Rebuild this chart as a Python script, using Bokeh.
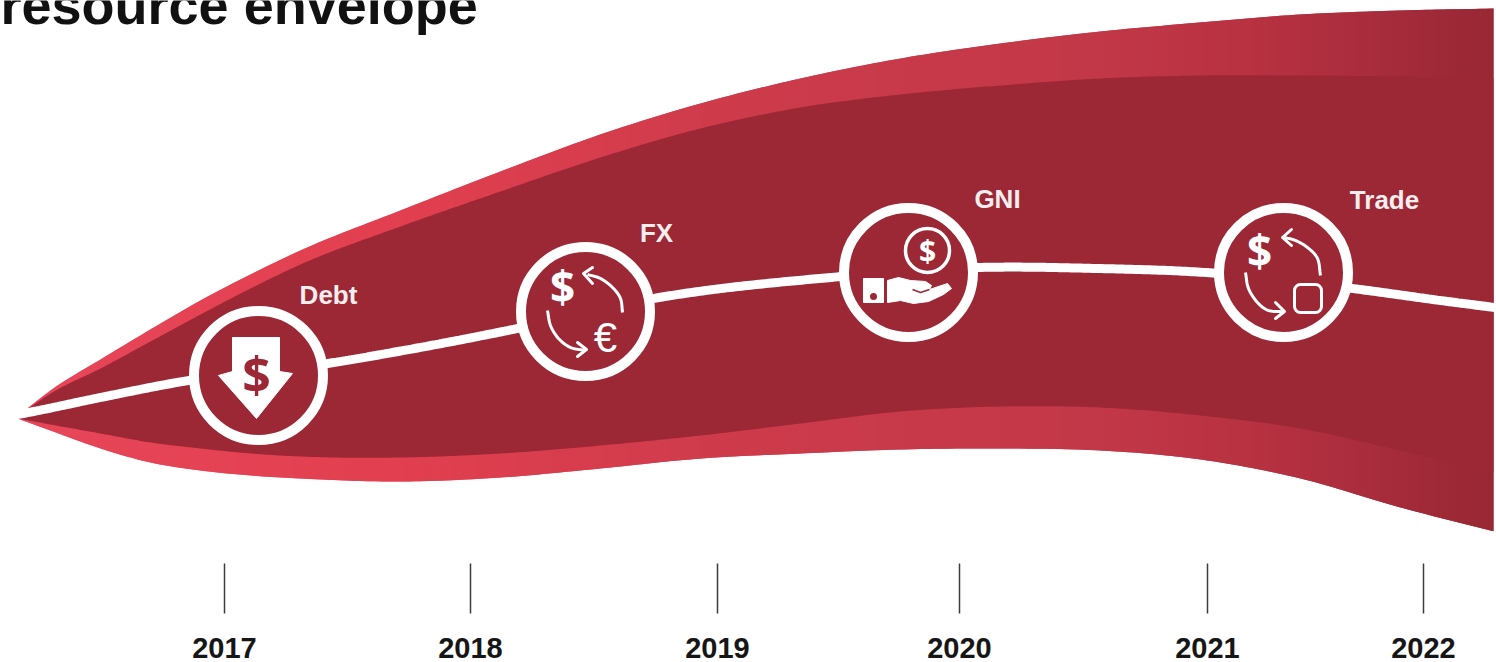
import numpy as np
from bokeh.plotting import figure
from bokeh.embed import file_html
from bokeh.resources import INLINE
from bokeh.core.properties import value
from bokeh.models import FixedTicker

# ---------- values (page pixels) ----------
TITLE = "resource envelope"
TITLE_POS = (0, 4)
year_ticks = [224, 470, 717, 959, 1207, 1423]
year_labels = ["2017", "2018", "2019", "2020", "2021", "2022"]

band_x = [17, 50, 100, 150, 200, 250, 300, 400, 500, 600, 700, 800, 900, 1000, 1100, 1200, 1300, 1400, 1494]
outer_top = [416, 390, 359, 329, 300, 274, 250, 210, 171, 134, 103, 78, 58, 43, 31, 22, 14, 10, 8]
inner_top = [416, 393, 368, 341, 314, 288, 264, 226, 191, 157, 128, 107, 94, 85, 78, 75, 75, 76, 78]
inner_bot = [418, 424, 433, 442, 448, 453, 456, 457, 453, 445, 435, 423, 411, 406, 407, 415, 428, 450, 472]
outer_bot = [418, 430, 448, 462, 470, 475, 478, 481, 477, 468, 458, 453, 449, 448, 450, 459, 478, 507, 531]

link_x = [12, 33, 100, 188, 327, 403, 517, 653, 830, 978, 1097, 1205, 1352, 1440, 1494]
link_y = [415, 411, 397, 380, 363, 350, 328, 298, 277, 267, 268, 272, 288, 300, 307]

node_x = [258, 585, 908, 1283]
node_y = [375, 311, 272, 272]
node_names = ["Debt", "FX", "GNI", "Trade"]
name_x = [328, 656, 997, 1384]
name_y = [294, 232, 198, 199]

light_stop_x = [17, 400, 700, 900, 1100, 1250, 1350, 1430, 1494]
light_stop_rgb = [(232, 71, 90), (226, 64, 80), (208, 60, 76), (200, 58, 74), (195, 56, 72),
                  (184, 50, 66), (172, 46, 62), (160, 42, 56), (152, 40, 52)]
DARK = "#9c2735"

debt_arrow_x = [232, 279, 279, 292, 256, 218, 232]
debt_arrow_y = [337, 337, 371, 373, 418, 375, 371]
fx_top_x = [622, 620, 612, 600, 587]
fx_top_y = [312, 298, 287, 278, 274]
fx_top_head_x = [592, 583, 592]
fx_top_head_y = [267, 273, 283]
fx_bot_x = [547, 550, 558, 570, 585]
fx_bot_y = [310, 325, 338, 347, 350]
fx_bot_head_x = [577, 586, 577]
fx_bot_head_y = [342, 349, 356]
tr_top_x = [1320, 1317, 1307, 1295, 1284]
tr_top_y = [275, 258, 247, 240, 237]
tr_top_head_x = [1291, 1282, 1291]
tr_top_head_y = [229, 237, 245]
tr_bot_x = [1245, 1248, 1257, 1268, 1283]
tr_bot_y = [272, 288, 302, 310, 311]
tr_bot_head_x = [1275, 1284, 1275]
tr_bot_head_y = [302, 311, 318]
tr_box = (1294, 1321, 284, 312)
coin = (927, 250, 22)
cuff_x = [863, 883, 883, 863]
cuff_y = [278, 278, 302, 302]
cuff_dot = (873, 296)
hand_x = [887, 898, 910, 925, 931, 929, 947, 951, 943, 928, 913, 900, 887]
hand_y = [280, 277, 280, 281, 285, 289, 283, 288, 294, 301, 303, 300, 302]
crease_x = [912, 920, 929]
crease_y = [289, 292, 289]
dollars = [(256, 373, 50, DARK, "bold"), (562, 285, 44, "#ffffff", "bold"),
           (927, 250, 30, "#ffffff", "bold"), (1259, 249, 44, "#ffffff", "bold")]
euro = (605, 337, 42)


def smooth(t, v, ti):
    """Cubic rendering of a curve through the read points."""
    t, v = np.asarray(t, float), np.asarray(v, float)
    m = np.gradient(v, t)
    i = np.clip(np.searchsorted(t, ti, side="right") - 1, 0, len(t) - 2)
    h = t[i + 1] - t[i]
    s = (ti - t[i]) / h
    return ((2*s**3 - 3*s**2 + 1) * v[i] + (s**3 - 2*s**2 + s) * h * m[i]
            + (-2*s**3 + 3*s**2) * v[i + 1] + (s**3 - s**2) * h * m[i + 1])


def path(xs, ys, n=40):
    t = np.arange(len(xs), dtype=float)
    ti = np.linspace(0, len(xs) - 1, n)
    return smooth(t, xs, ti).tolist(), smooth(t, ys, ti).tolist()


p = figure(width=1496, height=662, x_range=(0, 1496), y_range=(662, 0),
           output_backend="svg", toolbar_location=None, tools="",
           y_axis_location=None, min_border_left=0, min_border_right=0,
           min_border_top=0, min_border_bottom=0)
p.outline_line_color = None
p.background_fill_color = "white"
p.border_fill_color = "white"
p.grid.visible = False

ax = p.xaxis[0]
ax.fixed_location = 563
ax.ticker = FixedTicker(ticks=year_ticks)
ax.major_label_overrides = dict(zip(year_ticks, year_labels))
ax.axis_line_color = None
ax.major_tick_in = 0
ax.major_tick_out = 50
ax.major_tick_line_color = "#3c3c3c"
ax.major_tick_line_width = 1.5
ax.minor_tick_line_color = None
ax.major_label_standoff = 24
ax.major_label_text_font = "Liberation Sans"
ax.major_label_text_font_style = "bold"
ax.major_label_text_font_size = "29px"
ax.major_label_text_color = "#161616"

# light band with a left-to-right colour fade
grid = np.arange(17.0, 1495.0, 3.0)
top = smooth(band_x, outer_top, grid)
bot = smooth(band_x, outer_bot, grid)
cols = []
for x in grid[:-1]:
    r, g, b = (np.interp(x, light_stop_x, [c[k] for c in light_stop_rgb]) for k in range(3))
    cols.append("#%02x%02x%02x" % (int(r), int(g), int(b)))
xs, ys = [], []
for i in range(len(grid) - 1):
    j = min(i + 2, len(grid) - 1)
    xs.append([grid[i], grid[j], grid[j], grid[i]])
    ys.append([top[i], top[j], bot[j], bot[i]])
p.patches(xs, ys, fill_color=cols, line_color=None)

# dark core
it = smooth(band_x, inner_top, grid)
ib = smooth(band_x, inner_bot, grid)
p.patch(np.r_[grid, grid[::-1]], np.r_[it, ib[::-1]], fill_color=DARK, line_color=None)

# white link and nodes
lg = np.arange(12.0, 1495.0, 3.0)
p.line(lg, smooth(link_x, link_y, lg), line_color="white", line_width=9)
p.scatter(node_x, node_y, size=129, marker="circle", fill_color=DARK, line_color="white", line_width=10)
p.text(name_x, name_y, text=node_names, text_color="#f6eeee", text_align="center", text_baseline="middle",
       text_font=value("Liberation Sans"), text_font_style="bold", text_font_size="26px")

# icons
p.patch(debt_arrow_x, debt_arrow_y, fill_color="white", line_color="white")
for ax_, ay_ in [(fx_top_x, fx_top_y), (fx_bot_x, fx_bot_y), (tr_top_x, tr_top_y), (tr_bot_x, tr_bot_y)]:
    a, b = path(ax_, ay_)
    p.line(a, b, line_color="white", line_width=3)
for ax_, ay_ in [(fx_top_head_x, fx_top_head_y), (fx_bot_head_x, fx_bot_head_y),
                 (tr_top_head_x, tr_top_head_y), (tr_bot_head_x, tr_bot_head_y)]:
    p.line(ax_, ay_, line_color="white", line_width=3, line_cap="round", line_join="round")
p.quad(left=[tr_box[0]], right=[tr_box[1]], top=[tr_box[2]], bottom=[tr_box[3]], fill_color=None,
       line_color="white", line_width=3, border_radius=6)
p.scatter([coin[0]], [coin[1]], size=2 * coin[2], marker="circle", fill_color=None, line_color="white", line_width=3.5)
p.patch(cuff_x, cuff_y, fill_color="white", line_color="white")
p.scatter([cuff_dot[0]], [cuff_dot[1]], size=7, marker="circle", fill_color=DARK, line_color=None)
p.patch(hand_x, hand_y, fill_color="white", line_color="white")
p.line(crease_x, crease_y, line_color=DARK, line_width=1.5)
for x, y, s, c, w in dollars:
    p.text([x], [y], text=["$"], text_color=c, text_align="center", text_baseline="middle",
           text_font=value("Open Sans"), text_font_style=w, text_font_size=f"{s}px")
p.text([euro[0]], [euro[1]], text=["€"], text_color="white", text_align="center", text_baseline="middle",
       text_font=value("Liberation Sans"), text_font_size=f"{euro[2]}px")

p.text([TITLE_POS[0]], [TITLE_POS[1]], text=[TITLE], text_color="#111111", text_align="left",
       text_baseline="middle", text_font=value("Liberation Sans"), text_font_style="bold",
       text_font_size="54px")

open("out.html", "w").write(file_html(p, INLINE))
